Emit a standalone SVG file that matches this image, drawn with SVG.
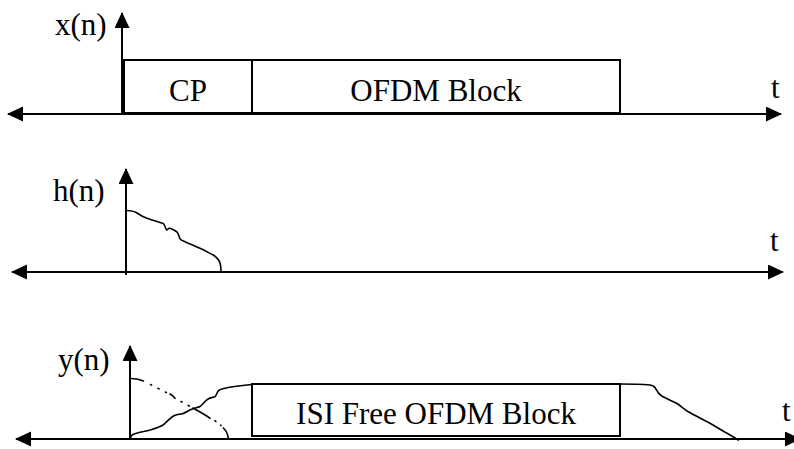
<svg xmlns="http://www.w3.org/2000/svg" width="794" height="449" viewBox="0 0 794 449">
  <style>
    .ax { stroke: #000; stroke-width: 2; fill: none; }
    .ln { stroke: #000; stroke-width: 1.6; fill: none; stroke-linejoin: round; stroke-linecap: round; }
    .box { stroke: #000; stroke-width: 2; fill: #fff; }
    text { font-family: "Liberation Serif", "Times New Roman", serif; font-size: 31px; fill: #000; }
    .mid { text-anchor: middle; }
  </style>
  <defs>
    <marker id="arrow" markerUnits="userSpaceOnUse" markerWidth="18" markerHeight="18" refX="15" refY="7.5" orient="auto">
      <path d="M0,0 L16,7.5 L0,15 z" fill="#000"/>
    </marker>
  </defs>

  <!-- Panel 1: transmitted symbol x(n) -->
  <g id="panel-x">
    <g id="x-boxes">
      <rect class="box" x="124" y="60" width="128" height="53"/>
      <rect class="box" x="252" y="60" width="368" height="53"/>
      <text class="mid" x="188" y="101">CP</text>
      <text class="mid" x="436" y="101">OFDM Block</text>
    </g>
    <g id="x-axes">
      <line class="ax" x1="24" y1="114" x2="8" y2="114" marker-end="url(#arrow)"/>
      <line class="ax" x1="24" y1="114" x2="781" y2="114" marker-end="url(#arrow)"/>
      <line class="ax" x1="122" y1="115" x2="122" y2="13" marker-end="url(#arrow)"/>
    </g>
    <text x="55" y="35">x(n)</text>
    <text x="771" y="98">t</text>
  </g>

  <!-- Panel 2: channel impulse response h(n) -->
  <g id="panel-h">
    <g id="h-axes">
      <line class="ax" x1="28" y1="272" x2="12" y2="272" marker-end="url(#arrow)"/>
      <line class="ax" x1="28" y1="272" x2="783" y2="272" marker-end="url(#arrow)"/>
      <line class="ax" x1="126" y1="275" x2="126" y2="169" marker-end="url(#arrow)"/>
    </g>
    <path id="h-curve" class="ln" d="M126,210.5 C131,210.5 134,211 137,213 C140,215 143,217 147,218.3 C153,220.5 159,222 163.3,223.5 C165,225 165.5,229 166.7,230 C168,229 169,228 170,228.3 C173,229.5 175,230.5 177,232 C179,234 179,238 180.5,239.3 C182,240.5 183.5,241 185,241.7 C190,244 195,246 200,248.3 C205,250.5 209,253 213.3,255 C217,257.5 219.5,260 220.3,264 C221,267 221,270 221,272"/>
    <text x="53" y="201">h(n)</text>
    <text x="770" y="251">t</text>
  </g>

  <!-- Panel 3: received symbol y(n) -->
  <g id="panel-y">
    <g id="y-box">
      <rect class="box" x="252" y="384" width="368" height="52"/>
      <text class="mid" x="436" y="424">ISI Free OFDM Block</text>
    </g>
    <g id="y-axes">
      <line class="ax" x1="32" y1="439" x2="16" y2="439" marker-end="url(#arrow)"/>
      <line class="ax" x1="32" y1="439" x2="800" y2="439" marker-end="url(#arrow)"/>
      <line class="ax" x1="130" y1="440" x2="130" y2="346" marker-end="url(#arrow)"/>
    </g>
    <!-- leading edge rising into the block -->
    <path id="y-rise" class="ln" d="M130,438.5 C131,436 132,434.5 134,434 C140,432 146,431 150,430 C155,428.5 160,427 163,425 C167,422 170,418 173.5,416 C176,414.5 179,414.3 181.7,414 C185,413 188.5,410.5 191.7,409.3 C195,408 198,407.5 200,406.5 C203,404 205.5,400.5 208,399 C210.5,397.5 213,397.5 215,396.7 C216.5,395.5 217,392 218.5,390.7 C220.5,389 223,388.8 225,388.3 C232,386.5 240,385.6 247,385 L252,384.5"/>
    <!-- delayed copy of the previous tail -->
    <path id="y-tail-start" class="ln" d="M131.5,378.5 C136,378.8 140,379.6 143.5,381"/>
    <path id="y-tail-dots" class="ln" stroke-dasharray="1.2 7" d="M150.5,384.5 C157,388 164,391.5 170,394.3"/>
    <path id="y-tail-kink" class="ln" d="M170,394 C172,395 173.5,396.5 175,398.3"/>
    <path id="y-tail-dots2" class="ln" stroke-dasharray="1.2 7" d="M181,401.5 C185,403.5 189,406 193,408"/>
    <path id="y-tail-mid" class="ln" d="M193,408 C199,411.5 205,414.5 210,418.3"/>
    <path id="y-tail-dots3" class="ln" stroke-dasharray="1.2 6" d="M215,420.7 C217,422.5 219,424 221,425.5"/>
    <path id="y-tail-end" class="ln" d="M223.3,428 C226,430.5 228,433.5 228.3,439"/>
    <!-- trailing edge after the block -->
    <path id="y-fall" class="ln" d="M620,384 C630,384 642,384.3 650,385 C653,385.5 654.5,386.5 655.5,388.3 C657,391 658,393.5 661,395.5 C666,398.5 672,401 676.7,403.3 C681,406 684.5,409.5 688.3,411.7 C695,415.5 702,419 710,423.3 C717,427.5 723.5,431 730,435 C733.5,437 736,438.5 738.3,440"/>
    <text x="58" y="370">y(n)</text>
    <text x="782" y="421">t</text>
  </g>
</svg>
